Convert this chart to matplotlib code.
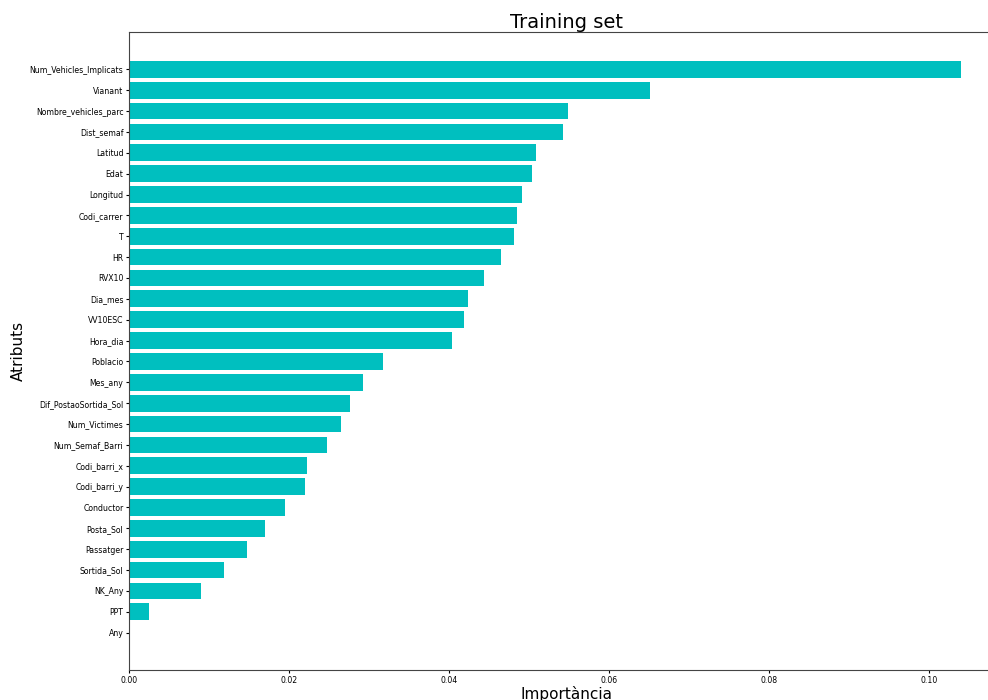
import matplotlib
matplotlib.use('Agg')
import matplotlib.pyplot as plt

# Feature importances from the random forest (training set)
atributs = ['Num_Vehicles_Implicats', 'Vianant', 'Nombre_vehicles_parc', 'Dist_semaf',
            'Latitud', 'Edat', 'Longitud', 'Codi_carrer', 'T', 'HR', 'RVX10',
            'Dia_mes', 'VV10ESC', 'Hora_dia', 'Poblacio', 'Mes_any',
            'Dif_PostaoSortida_Sol', 'Num_Victimes', 'Num_Semaf_Barri',
            'Codi_barri_x', 'Codi_barri_y', 'Conductor', 'Posta_Sol', 'Passatger',
            'Sortida_Sol', 'NK_Any', 'PPT', 'Any']
importancia = [0.1040, 0.0651, 0.0548, 0.0542, 0.0508, 0.0503, 0.0491, 0.0485,
               0.0481, 0.0465, 0.0443, 0.0424, 0.0418, 0.0403, 0.0317, 0.0292,
               0.0276, 0.0265, 0.0248, 0.0223, 0.0220, 0.0195, 0.0170, 0.0148,
               0.0119, 0.0090, 0.0025, 0.0]

fig = plt.figure(figsize=(9.88, 7), dpi=100)
ax = fig.add_axes([129 / 988, 30 / 700, (1003 - 129) / 988, 638 / 700])

# plot from least to most important so the biggest one ends up on top
ax.barh(atributs[::-1], importancia[::-1], color='c')
ax.set_title('Training set', fontsize=14, pad=3)
ax.set_xlabel('Importància', fontsize=11, labelpad=1)
ax.set_ylabel('Atributs', fontsize=11, labelpad=3)
ax.tick_params(labelsize=5.6, length=2, pad=2)
for s in ax.spines.values():
    s.set_color('#444444')

fig.savefig('out.png', dpi=100)
